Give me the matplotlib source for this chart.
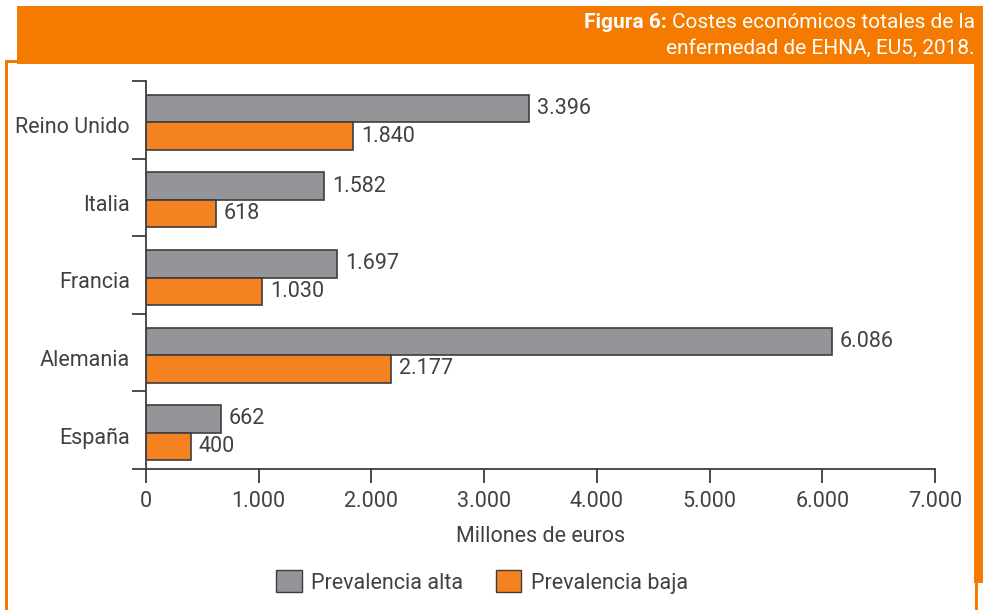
import matplotlib.pyplot as plt
from matplotlib.patches import Rectangle, Patch

plt.rcParams['font.family'] = ['Roboto', 'DejaVu Sans']

# datos
paises = ["Reino Unido", "Italia", "Francia", "Alemania", "España"]
prevalencia_alta = [3396, 1582, 1697, 6086, 662]
prevalencia_baja = [1840, 618, 1030, 2177, 400]
ticks_x = [0, 1000, 2000, 3000, 4000, 5000, 6000, 7000]

GRIS = "#939598"
NARANJA = "#F58220"
BANDA = "#F47B00"
BORDE = "#3d3d3d"
TEXTO = "#414141"

W, H = 983, 610
FS = 15.5


def fmt(v):
    return f"{v:,}".replace(",", ".")


def px(x0, y0, x1, y1):
    # rectangulo en pixeles (origen arriba-izquierda) -> fracciones de figura
    return (x0 / W, 1 - y1 / H), (x1 - x0) / W, (y1 - y0) / H


fig = plt.figure(figsize=(W / 100, H / 100), dpi=100)

# marco y banda naranja
for caja in [(17, 6, 983, 64), (5, 60, 17, 63), (5, 60, 7.5, 610),
             (974, 60, 983, 583), (975, 583, 977.5, 610)]:
    xy, w, h = px(*caja)
    fig.patches.append(Rectangle(xy, w, h, transform=fig.transFigure,
                                 color=BANDA, lw=0, zorder=0))

t = fig.text(975 / W, 1 - 23 / H, "Costes económicos totales de la", color="white",
             fontsize=15, ha="right", va="center")
fig.canvas.draw()
bb = t.get_window_extent()
fig.text(bb.x0 - 5, bb.y0 + bb.height / 2, "Figura 6:", color="white", fontsize=15,
         ha="right", va="center", fontweight="bold", transform=None)
fig.text(975 / W, 1 - 48 / H, "enfermedad de EHNA, EU5, 2018.", color="white",
         fontsize=15, ha="right", va="center")

ax = fig.add_axes([146 / W, 1 - 469 / H, (935 - 146) / W, (469 - 81) / H])

pos = list(range(len(paises)))
alto = 0.355
y_alta = [p - 0.145 for p in pos]
y_baja = [p + 0.21 for p in pos]

ax.barh(y_alta, prevalencia_alta, height=alto, color=GRIS, edgecolor=BORDE, linewidth=1.2)
ax.barh(y_baja, prevalencia_baja, height=alto, color=NARANJA, edgecolor=BORDE, linewidth=1.2)

for y, v in zip(y_alta, prevalencia_alta):
    ax.text(v + 70, y, fmt(v), va="center", ha="left", fontsize=FS, color=TEXTO)
for y, v in zip(y_baja, prevalencia_baja):
    ax.text(v + 70, y, fmt(v), va="center", ha="left", fontsize=FS, color=TEXTO)

ax.set_xlim(0, 7000)
ax.set_ylim(len(paises) - 0.5, -0.5)

ax.set_xticks(ticks_x)
ax.set_xticklabels([fmt(v) for v in ticks_x], fontsize=FS, color=TEXTO)
ax.tick_params(axis="x", length=10, width=1.3, color=BORDE, pad=6)

# ticks del eje y en los limites entre paises, etiquetas en el centro
ax.set_yticks([p - 0.5 for p in pos] + [len(paises) - 0.5])
ax.set_yticklabels([])
ax.set_yticks([p + 0.07 for p in pos], minor=True)
ax.set_yticklabels(paises, minor=True, fontsize=FS, color=TEXTO)
ax.tick_params(axis="y", which="major", length=10, width=1.3, color=BORDE)
ax.tick_params(axis="y", which="minor", length=0, pad=11.5)

for lado in ["top", "right"]:
    ax.spines[lado].set_visible(False)
for lado in ["left", "bottom"]:
    ax.spines[lado].set_color(BORDE)
    ax.spines[lado].set_linewidth(1.3)

ax.set_xlabel("Millones de euros", fontsize=FS, color=TEXTO, labelpad=10)

leyenda = [Patch(facecolor=GRIS, edgecolor=BORDE, label="Prevalencia alta"),
           Patch(facecolor=NARANJA, edgecolor=BORDE, label="Prevalencia baja")]
fig.legend(handles=leyenda, loc="center", bbox_to_anchor=(482 / W, 1 - 582 / H),
           ncol=2, frameon=False, fontsize=FS, handlelength=1.2, handleheight=1.2,
           columnspacing=1.5, handletextpad=0.45, labelcolor=TEXTO)

fig.savefig("out.png", dpi=100)
